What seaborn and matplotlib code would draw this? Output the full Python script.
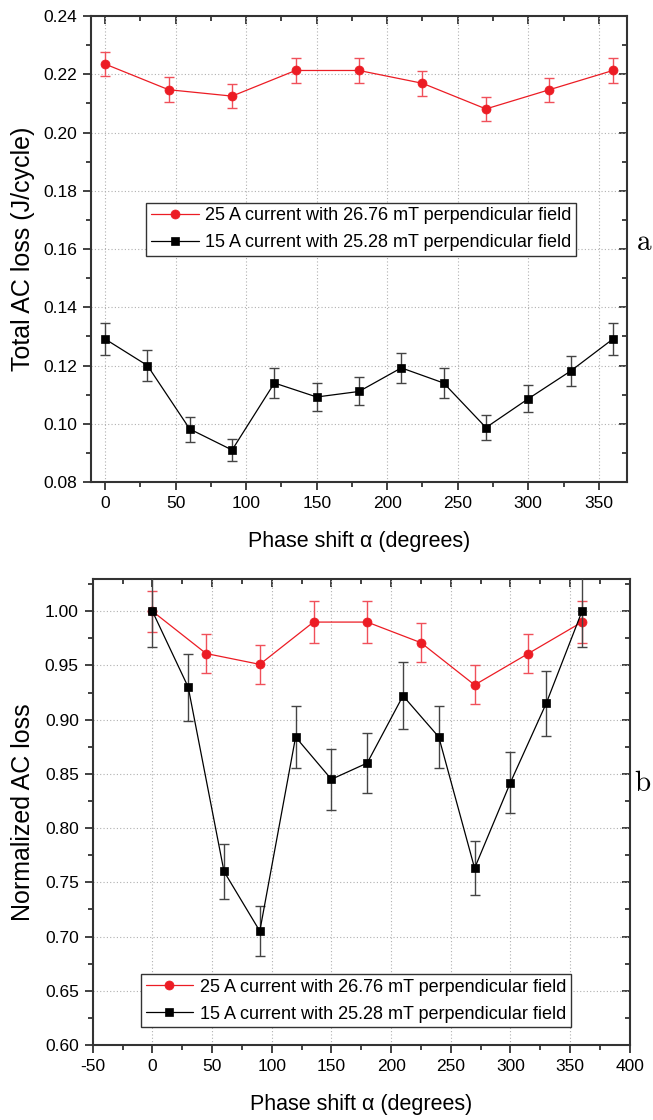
"""Phase-shift AC loss figure: total loss (a) and normalized loss (b)."""
import numpy as np
import pandas as pd
import matplotlib
matplotlib.use("Agg")
import matplotlib.pyplot as plt
from matplotlib.ticker import MultipleLocator, FormatStrFormatter, NullFormatter
import seaborn as sns

# ── data ──────────────────────────────────────────────────────────────────────
phase_25A = [0, 45, 90, 135, 180, 225, 270, 315, 360]
phase_15A = [0, 30, 60, 90, 120, 150, 180, 210, 240, 270, 300, 330, 360]

total_25A     = [0.2235, 0.2147, 0.2125, 0.2213, 0.2213, 0.2169, 0.2081, 0.2147, 0.2213]
total_25A_err = [0.0042, 0.0042, 0.0041, 0.0042, 0.0042, 0.0042, 0.0040, 0.0041, 0.0042]
total_15A     = [0.1291, 0.1200, 0.0982, 0.0910, 0.1140, 0.1092, 0.1111, 0.1192,
                 0.1140, 0.0987, 0.1086, 0.1181, 0.1291]
total_15A_err = [0.0055, 0.0052, 0.0043, 0.0039, 0.0050, 0.0047, 0.0048, 0.0052,
                 0.0050, 0.0043, 0.0047, 0.0051, 0.0055]

norm_25A     = [1.000, 0.961, 0.951, 0.990, 0.990, 0.971, 0.932, 0.961, 0.990]
norm_25A_err = [0.019, 0.018, 0.018, 0.019, 0.019, 0.018, 0.018, 0.018, 0.019]
norm_15A     = [1.000, 0.930, 0.760, 0.705, 0.884, 0.845, 0.860, 0.922,
                0.884, 0.763, 0.842, 0.915, 1.000]
norm_15A_err = [0.033, 0.031, 0.025, 0.023, 0.029, 0.028, 0.028, 0.031,
                0.029, 0.025, 0.028, 0.030, 0.033]

LABEL_25A = "25 A current with 26.76 mT perpendicular field"
LABEL_15A = "15 A current with 25.28 mT perpendicular field"
RED, RED_ERR = "#ec1c24", "#f0505a"
BLACK, BLACK_ERR = "#000000", "#444444"
EDGE = "#333333"

# ── style ─────────────────────────────────────────────────────────────────────
sns.set_style("ticks")
plt.rcParams["font.family"] = ["Liberation Sans", "DejaVu Sans"]
plt.rcParams["axes.unicode_minus"] = False
plt.rcParams["mathtext.fontset"] = "cm"
plt.rcParams["text.color"] = "black"
plt.rcParams["axes.labelcolor"] = "black"
plt.rcParams["xtick.labelcolor"] = "black"
plt.rcParams["ytick.labelcolor"] = "black"

fig = plt.figure(figsize=(6.53, 11.2), dpi=100)
ax_a = fig.add_axes([0.1394, 0.5696, 0.8208, 0.4161])
ax_b = fig.add_axes([0.1420, 0.0670, 0.8224, 0.4163])


def draw_series(ax, x, y, err, color, ecolor, marker, ms, label, z):
    ax.errorbar(x, y, yerr=err, fmt="none", ecolor=ecolor, elinewidth=1.0,
                capsize=3.5, capthick=1.0, zorder=z)
    df = pd.DataFrame({"x": x, "y": y})
    sns.lineplot(data=df, x="x", y="y", ax=ax, color=color, marker=marker,
                 markersize=ms, markeredgecolor=color, markeredgewidth=0.5,
                 linewidth=0.9, label=label, zorder=z + 0.5)


def set_ticks(axis, maj):
    axis.set_major_locator(MultipleLocator(maj))
    axis.set_minor_locator(MultipleLocator(maj / 2))


def style_axes(ax, xlim, ylim, xmaj, ymaj):
    ax.set_xlim(*xlim)
    ax.set_ylim(*ylim)
    set_ticks(ax.xaxis, xmaj)
    set_ticks(ax.yaxis, ymaj)
    ax.yaxis.set_major_formatter(FormatStrFormatter("%.2f"))
    ax.grid(True, which="major", color="#b0b0b0", linestyle=(0, (1, 2)), linewidth=0.8)
    for s in ax.spines.values():
        s.set_color(EDGE)
        s.set_linewidth(1.5)
    ax.tick_params(which="major", direction="out", length=6, width=1.3,
                   color=EDGE, labelsize=12.5, pad=4)
    ax.tick_params(which="minor", direction="out", length=3.5, width=1.3, color=EDGE)
    # inward ticks on top and right, no labels
    top = ax.secondary_xaxis("top")
    right = ax.secondary_yaxis("right")
    set_ticks(top.xaxis, xmaj)
    set_ticks(right.yaxis, ymaj)
    top.xaxis.set_major_formatter(NullFormatter())
    right.yaxis.set_major_formatter(NullFormatter())
    for sec in (top, right):
        sec.tick_params(which="major", direction="in", length=6, width=1.3, color=EDGE)
        sec.tick_params(which="minor", direction="in", length=3.5, width=1.3, color=EDGE)
        for s in sec.spines.values():
            s.set_visible(False)


def finish(ax, xlim, ylim, xmaj, ymaj, ylabel, xlab_y, ylab_x, leg_anchor):
    style_axes(ax, xlim, ylim, xmaj, ymaj)
    ax.set_xlabel("Phase shift \u03b1 (degrees)", fontsize=15.5)
    ax.set_ylabel(ylabel, fontsize=18)
    ax.xaxis.set_label_coords(0.5, xlab_y)
    ax.yaxis.set_label_coords(ylab_x, 0.5)
    leg = ax.legend(loc="upper left", bbox_to_anchor=leg_anchor, fontsize=13,
                    frameon=True, fancybox=False, edgecolor=EDGE, framealpha=1,
                    handlelength=2.65, handletextpad=0.35, labelspacing=0.55,
                    borderpad=0.25, borderaxespad=0, numpoints=1)
    leg.get_frame().set_linewidth(1.0)
    leg.set_zorder(10)


# ── (a) total AC loss ─────────────────────────────────────────────────────────
draw_series(ax_a, phase_25A, total_25A, total_25A_err, RED, RED_ERR, "o", 6.5, LABEL_25A, 2)
draw_series(ax_a, phase_15A, total_15A, total_15A_err, BLACK, BLACK_ERR, "s", 6, LABEL_15A, 3)
finish(ax_a, (-10, 370), (0.08, 0.24), 50, 0.02, "Total AC loss (J/cycle)",
       -0.105, -0.104, (0.103, 0.599))

# ── (b) normalized AC loss ────────────────────────────────────────────────────
draw_series(ax_b, phase_25A, norm_25A, norm_25A_err, RED, RED_ERR, "o", 6.5, LABEL_25A, 2)
draw_series(ax_b, phase_15A, norm_15A, norm_15A_err, BLACK, BLACK_ERR, "s", 6, LABEL_15A, 3)
finish(ax_b, (-50, 400), (0.60, 1.03), 50, 0.05, "Normalized AC loss",
       -0.105, -0.107, (0.090, 0.152))

# panel letters
fig.text(644 / 653, 1 - 242 / 1120, r"$\mathrm{a}$", fontsize=21, ha="center", va="center")
fig.text(643 / 653, 1 - 783 / 1120, r"$\mathrm{b}$", fontsize=21, ha="center", va="center")

fig.savefig("out.png", dpi=100)
